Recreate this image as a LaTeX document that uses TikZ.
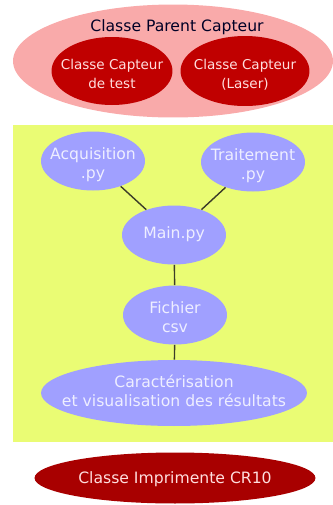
\documentclass[tikz,border=0pt]{standalone}
\usepackage{fontspec}
\setmainfont{DejaVu Sans}
\usepackage{xcolor}
\usepackage{tikz}
\usetikzlibrary{shapes.geometric}

\definecolor{parentpink}{RGB}{249,170,170}
\definecolor{capteurred}{RGB}{192,0,0}
\definecolor{printerred}{RGB}{168,0,0}
\definecolor{zoneyellow}{RGB}{234,252,116}
\definecolor{pyblue}{RGB}{160,160,255}
\definecolor{pytext}{RGB}{238,238,255}
\definecolor{redtext}{RGB}{255,222,222}
\definecolor{liencol}{RGB}{60,60,40}

% texte sans taille propre, l'ellipse garde sa taille minimale
\newcommand{\etiq}[2][0pt]{\clap{\smash{\raisebox{\dimexpr(\depth-\height)/2+#1\relax}{\begin{tabular}{@{}c@{}}#2\end{tabular}}}}}

\begin{document}
\begin{tikzpicture}[
    x=0.02cm, y=-0.02cm,
    parent_node/.style={ellipse, fill=parentpink, inner sep=0pt, minimum width=6.4cm, minimum height=2.26cm},
    capteur_node/.style={ellipse, fill=capteurred, text=redtext, inner sep=0pt, font=\fontsize{7.7}{10.7}\selectfont},
    py_node/.style={ellipse, fill=pyblue, text=pytext, inner sep=0pt, minimum width=2.08cm, minimum height=1.18cm, font=\fontsize{8.9}{11}\selectfont},
    printer_node/.style={ellipse, fill=printerred, text=redtext, inner sep=0pt, minimum width=5.62cm, minimum height=1.02cm, font=\fontsize{8.9}{11}\selectfont},
    lien/.style={draw=liencol, line width=0.8pt}
]
    \useasboundingbox (0,0) rectangle (333,505);

    % Capteurs
    \node[parent_node] (parent) at (173,61) {};
    \node[font=\fontsize{8.9}{11}\selectfont, text=black!85!blue, inner sep=0pt] (parent_titre) at (177,27) {Classe Parent Capteur};
    \node[capteur_node, minimum width=2.42cm, minimum height=1.36cm] (test) at (112,71) {\etiq[-2.2pt]{Classe Capteur\\de test}};
    \node[capteur_node, minimum width=2.58cm, minimum height=1.4cm] (laser) at (245,71) {\etiq[-2.2pt]{Classe Capteur\\(Laser)}};

    % Zone programme
    \fill[zoneyellow] (13,125) rectangle (335,442);
    \node[py_node] (acq) at (93,161) {\etiq[-2.5pt]{Acquisition\\.py}};
    \node[py_node] (trait) at (253,162) {\etiq[-2.5pt]{Traitement\\.py}};
    \node[py_node] (main) at (174,235) {\etiq{Main.py}};
    \node[py_node] (csv) at (175,315) {\etiq[-2.5pt]{Fichier\\csv}};
    \node[py_node, minimum width=5.32cm, minimum height=1.32cm] (carac) at (174,393) {\etiq{Caractérisation\\et visualisation des résultats}};

    % Imprimante
    \node[printer_node] (cr10) at (175,478) {\etiq[-1.1pt]{Classe Imprimente CR10}};

    % Liens
    \draw[lien] (acq) -- (main);
    \draw[lien] (trait) -- (main);
    \draw[lien] (main) -- (csv);
    \draw[lien] (csv) -- (carac);
\end{tikzpicture}
\end{document}
